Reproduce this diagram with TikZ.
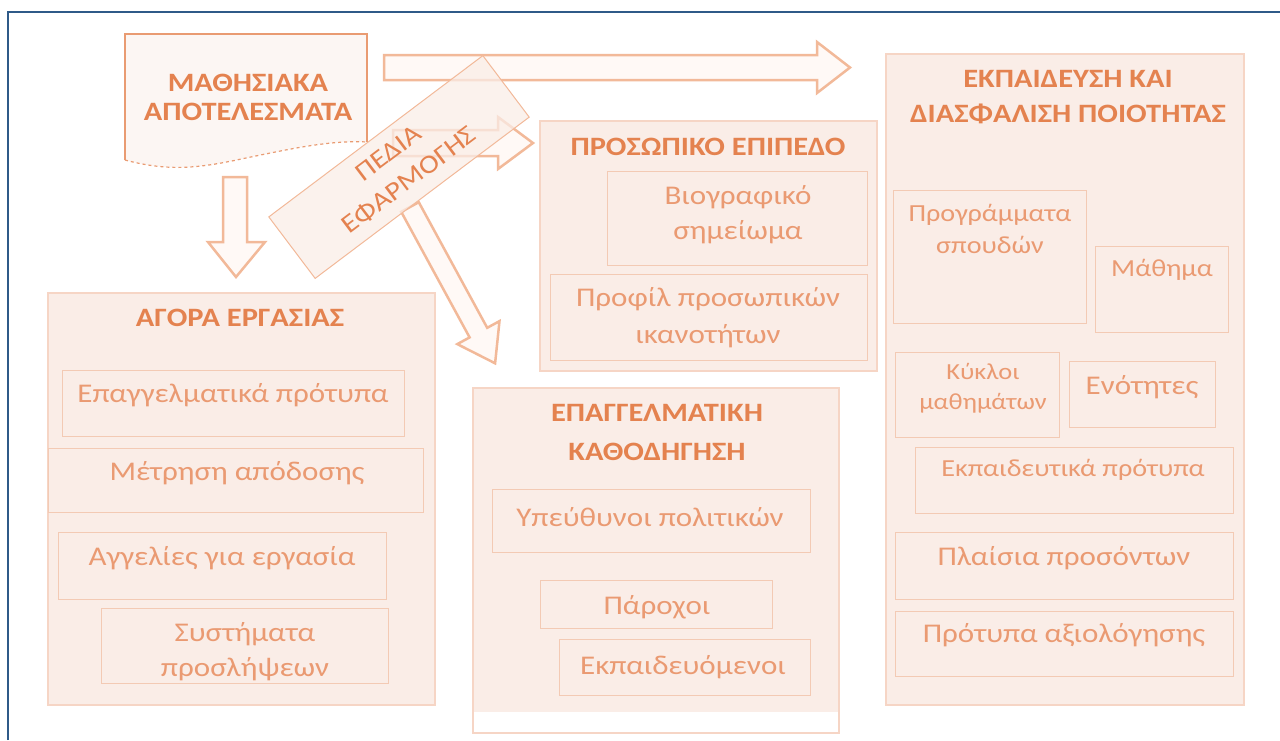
\documentclass[tikz,border=0pt]{standalone}
\usepackage{fontspec}
\setmainfont{Carlito}[FakeStretch=1.15]
\usetikzlibrary{positioning}

\definecolor{panelfill}{HTML}{FAEDE7}
\definecolor{panelline}{HTML}{F6D5C5}
\definecolor{itemline}{HTML}{F3CAB4}
\definecolor{titleorange}{HTML}{E4824F}
\definecolor{textorange}{HTML}{EA9A72}
\definecolor{arrowline}{HTML}{F2B999}
\definecolor{arrowfill}{HTML}{FFF9F6}
\definecolor{frameblue}{HTML}{2F5A88}

\begin{document}
\begin{tikzpicture}[x=1pt, y=-1pt]
    \tikzstyle{panel} = [draw=panelline, fill=panelfill, line width=1.2pt, inner sep=0];
    \tikzstyle{item} = [draw=itemline, fill=panelfill, line width=1pt, inner sep=0];
    \tikzstyle{heading} = [text=titleorange, font=\bfseries\fontsize{26.5}{36}\selectfont, align=center, inner sep=0];
    \tikzstyle{itemtext} = [text=textorange, font=\fontsize{27}{35}\selectfont, align=center, inner sep=0];
    \tikzstyle{smalltext} = [itemtext, font=\fontsize{24.5}{32}\selectfont];
    \tikzstyle{blockarrow} = [draw=arrowline, fill=arrowfill, line width=2.5pt, line join=miter];

    \useasboundingbox (0,0) rectangle (1280,740);
    \draw[frameblue, line width=2.2pt] (8,740) -- (8,12) -- (1280,12);

    % panels
    \node[panel, minimum width=387, minimum height=412] (agora) at (241.5,499) {};
    \node[panel, minimum width=337, minimum height=250] (prosopiko) at (708.5,246) {};
    \node[panel, minimum width=366, minimum height=345] (kath) at (656,560.5) {};
    \fill[white] (474,712) rectangle (838,732);
    \node[panel, minimum width=358, minimum height=651] (ekp) at (1065,379.5) {};

    \node[heading] (agora-t) at (240,318) {ΑΓΟΡΑ ΕΡΓΑΣΙΑΣ};
    \node[heading] (prosopiko-t) at (708,147) {ΠΡΟΣΩΠΙΚΟ ΕΠΙΠΕΔΟ};
    \node[heading, font=\bfseries\fontsize{26.5}{39}\selectfont] (kath-t) at (657,432) {ΕΠΑΓΓΕΛΜΑΤΙΚΗ\\ΚΑΘΟΔΗΓΗΣΗ};
    \node[heading, font=\bfseries\fontsize{26.5}{35}\selectfont] (ekp-t) at (1068,97) {ΕΚΠΑΙΔΕΥΣΗ ΚΑΙ\\ΔΙΑΣΦΑΛΙΣΗ ΠΟΙΟΤΗΤΑΣ};

    % items
    \node[item, minimum width=342, minimum height=66] (epag) at (233,403) {};
    \node[item, minimum width=375, minimum height=64] (metrisi) at (235.5,480) {};
    \node[item, minimum width=328, minimum height=67] (aggelies) at (222,565.5) {};
    \node[item, minimum width=287, minimum height=75] (systimata) at (244.5,645.5) {};
    \node[item, minimum width=260, minimum height=94] (viografiko) at (737,218) {};
    \node[item, minimum width=317, minimum height=86] (profil) at (708.5,317) {};
    \node[item, minimum width=318, minimum height=63] (ypeuthynoi) at (651,520.5) {};
    \node[item, minimum width=232, minimum height=48] (parochoi) at (656,604) {};
    \node[item, minimum width=251, minimum height=56] (ekpaid) at (684.5,667) {};
    \node[item, minimum width=193, minimum height=133] (programmata) at (989.5,256.5) {};
    \node[item, minimum width=133, minimum height=86] (mathima) at (1161.5,289) {};
    \node[item, minimum width=164, minimum height=85] (kykloi) at (977,394.5) {};
    \node[item, minimum width=146, minimum height=66] (enotites) at (1142,394) {};
    \node[item, minimum width=318, minimum height=66] (protypa) at (1074,480) {};
    \node[item, minimum width=338, minimum height=67] (plaisia) at (1064,565.5) {};
    \node[item, minimum width=338, minimum height=65] (axiologisi) at (1064,643.5) {};

    \node[itemtext] (epag-t) at (233,395) {Επαγγελματικά πρότυπα};
    \node[itemtext] (metrisi-t) at (237,473) {Μέτρηση απόδοσης};
    \node[itemtext] (aggelies-t) at (222,558) {Αγγελίες για εργασία};
    \node[itemtext] (systimata-t) at (245,652) {Συστήματα\\προσλήψεων};
    \node[itemtext] (viografiko-t) at (738,215) {Βιογραφικό\\σημείωμα};
    \node[itemtext, font=\fontsize{27}{37}\selectfont] (profil-t) at (708,318) {Προφίλ προσωπικών\\ικανοτήτων};
    \node[itemtext] (ypeuthynoi-t) at (650,517) {Υπεύθυνοι πολιτικών};
    \node[itemtext] (parochoi-t) at (657,607) {Πάροχοι};
    \node[itemtext] (ekpaid-t) at (683,667) {Εκπαιδευόμενοι};
    \node[smalltext] (programmata-t) at (990,229) {Προγράμματα\\σπουδών};
    \node[smalltext] (mathima-t) at (1162,270) {Μάθημα};
    \node[smalltext, font=\fontsize{23}{30}\selectfont] (kykloi-t) at (983,388) {Κύκλοι\\μαθημάτων};
    \node[itemtext] (enotites-t) at (1142,387) {Ενότητες};
    \node[smalltext] (protypa-t) at (1073,470) {Εκπαιδευτικά πρότυπα};
    \node[itemtext] (plaisia-t) at (1064,558) {Πλαίσια προσόντων};
    \node[itemtext] (axiologisi-t) at (1064,635) {Πρότυπα αξιολόγησης};

    % learning outcomes
    \fill[panelfill!50!white] (367,142) -- (367,34) -- (125,34) -- (125,160)
        .. controls (170,172) and (200,168) .. (246,158) .. controls (290,149) and (330,140) .. (367,142);
    \draw[titleorange!80, line width=1.2pt] (125,160) -- (125,34) -- (367,34) -- (367,142);
    \draw[titleorange!80, line width=1.2pt, dashed] (125,160)
        .. controls (170,172) and (200,168) .. (246,158) .. controls (290,149) and (330,140) .. (367,142);
    \node[heading, font=\bfseries\fontsize{26.5}{29}\selectfont] (mathisiaka) at (248,97) {ΜΑΘΗΣΙΑΚΑ\\ΑΠΟΤΕΛΕΣΜΑΤΑ};

    % block arrows
    \draw[blockarrow] (384,55) -- (817,55) -- (817,42) -- (850,67.5) -- (817,93) -- (817,80) -- (384,80) -- cycle;
    \draw[blockarrow] (393,130) -- (498,130) -- (498,117) -- (533,143) -- (498,169) -- (498,156) -- (393,156) -- cycle;
    \draw[blockarrow] (223,177) -- (247,177) -- (247,242) -- (265,242) -- (236,277) -- (208,242) -- (223,242) -- cycle;
    \draw[blockarrow] (418.8,202.2) -- (487.2,327.8) -- (499.5,321.1) -- (495.1,363.3)
        -- (457.3,344.1) -- (469.6,337.4) -- (401.2,211.8) -- cycle;

    \node[draw=arrowline, fill=panelfill, fill opacity=0.75, text opacity=1, line width=1pt,
        rotate=37, minimum width=268, minimum height=77, text=titleorange,
        font=\fontsize{26}{34}\selectfont, align=center] (pedia) at (399,167) {ΠΕΔΙΑ\\ΕΦΑΡΜΟΓΗΣ};
\end{tikzpicture}
\end{document}
